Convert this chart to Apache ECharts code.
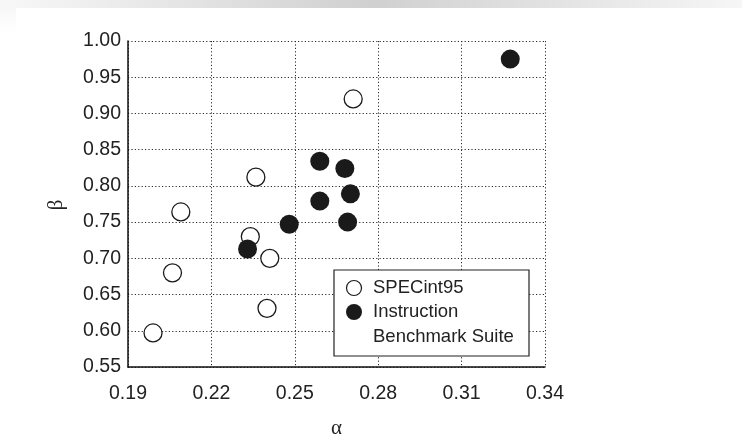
<!DOCTYPE html>
<html>
<head>
<meta charset="utf-8">
<script src="https://cdn.jsdelivr.net/npm/echarts@6/dist/echarts.min.js"></script>
<style>
  html, body { margin: 0; padding: 0; background: #ffffff; }
  #chart { width: 742px; height: 447px; }
</style>
</head>
<body>
<div id="chart"></div>
<script>
// Tick values for both axes
var xTicks = [0.19, 0.22, 0.25, 0.28, 0.31, 0.34];
var yTicks = [0.55, 0.60, 0.65, 0.70, 0.75, 0.80, 0.85, 0.90, 0.95, 1.00];

// SPECint95 workloads: alpha / beta
var specAlpha = [0.199, 0.206, 0.209, 0.234, 0.241, 0.240, 0.236, 0.271];
var specBeta  = [0.597, 0.680, 0.764, 0.730, 0.700, 0.631, 0.812, 0.920];

// Instruction Benchmark Suite: alpha / beta
var ibsAlpha = [0.3275, 0.259, 0.268, 0.270, 0.259, 0.269, 0.248, 0.233];
var ibsBeta  = [0.975, 0.834, 0.824, 0.789, 0.779, 0.750, 0.747, 0.713];

// Legend entries
var legendNames = ['SPECint95', 'Instruction', 'Benchmark Suite'];

function pairs(xs, ys) {
  return xs.map(function (x, i) { return [x, ys[i]]; });
}

var chart = echarts.init(document.getElementById('chart'), null, { renderer: 'canvas' });

var SANS = '"Liberation Sans", Arial, sans-serif';
var SERIF = '"Liberation Serif", serif';
var gridLine = { show: true, lineStyle: { color: '#2a2a2a', type: [1.2, 2.2], width: 1 } };
var LZ = 100; // legend box sits above grid lines and marks

chart.setOption({
  animation: false,
  backgroundColor: '#ffffff',
  graphic: [
    {
      type: 'rect', left: 0, top: 0, silent: true, z: -10,
      shape: { width: 742, height: 8 },
      style: {
        fill: new echarts.graphic.LinearGradient(0, 0, 1, 0, [
          { offset: 0, color: '#f8f8f8' },
          { offset: 0.5, color: '#d0d0d0' },
          { offset: 1, color: '#f6f6f6' }
        ])
      }
    },
    {
      type: 'rect', left: 0, top: 8, silent: true, z: -10,
      shape: { width: 16, height: 24 },
      style: {
        fill: new echarts.graphic.LinearGradient(0, 0, 0, 1, [
          { offset: 0, color: '#f7f7f7' },
          { offset: 1, color: '#ffffff' }
        ])
      }
    },
    {
      type: 'text', x: 56, y: 205, rotation: Math.PI / 2, silent: true,
      style: {
        text: 'β', fontFamily: SERIF, fontSize: 21, fill: '#222',
        align: 'center', verticalAlign: 'middle'
      }
    },
    { type: 'rect', x: 334, y: 270, z: LZ, shape: { x: 0, y: 0, width: 195, height: 86 },
      style: { fill: '#ffffff', stroke: '#222', lineWidth: 1.2 } },
    { type: 'circle', x: 334, y: 270, z: LZ, shape: { cx: 20, cy: 18, r: 7.5 },
      style: { fill: '#ffffff', stroke: '#1a1a1a', lineWidth: 1.2 } },
    { type: 'text', x: 373, y: 288, z: LZ,
      style: { text: legendNames[0], fontFamily: SANS, fontSize: 18.5, fill: '#222', verticalAlign: 'middle' } },
    { type: 'circle', x: 334, y: 270, z: LZ, shape: { cx: 20, cy: 42, r: 8 },
      style: { fill: '#1a1a1a' } },
    { type: 'text', x: 373, y: 312, z: LZ,
      style: { text: legendNames[1], fontFamily: SANS, fontSize: 18.5, fill: '#222', verticalAlign: 'middle' } },
    { type: 'text', x: 373, y: 337, z: LZ,
      style: { text: legendNames[2], fontFamily: SANS, fontSize: 18.5, fill: '#222', verticalAlign: 'middle' } }
  ],
  grid: { left: 128, right: 197, top: 41, bottom: 80, containLabel: false, outerBoundsMode: 'none' },
  xAxis: {
    type: 'value', min: 0.19, max: 0.34,
    name: 'α', nameLocation: 'middle', nameGap: 51,
    nameTextStyle: { fontFamily: SERIF, fontSize: 21, color: '#222' },
    axisLine: { show: true, onZero: false, lineStyle: { color: '#111', width: 1.5 } },
    axisTick: { show: false, customValues: xTicks },
    axisLabel: {
      customValues: xTicks, margin: 17,
      formatter: function (v) { return v.toFixed(2); },
      fontFamily: SANS, fontSize: 19.5, color: '#222'
    },
    splitLine: gridLine
  },
  yAxis: {
    type: 'value', min: 0.55, max: 1.0,
    axisLine: { show: true, onZero: false, lineStyle: { color: '#111', width: 1.5 } },
    axisTick: { show: false, customValues: yTicks },
    axisLabel: {
      customValues: yTicks, margin: 7,
      formatter: function (v) { return v.toFixed(2); },
      fontFamily: SANS, fontSize: 19.5, color: '#222'
    },
    splitLine: gridLine
  },
  series: [
    {
      name: 'SPECint95', type: 'scatter', symbol: 'circle', symbolSize: 18,
      itemStyle: { color: '#ffffff', borderColor: '#1a1a1a', borderWidth: 1.3, opacity: 1 },
      data: pairs(specAlpha, specBeta), z: 3
    },
    {
      name: 'Instruction Benchmark Suite', type: 'scatter', symbol: 'circle', symbolSize: 19,
      itemStyle: { color: '#1a1a1a', borderWidth: 0, opacity: 1 },
      data: pairs(ibsAlpha, ibsBeta), z: 4
    }
  ]
});
</script>
</body>
</html>
